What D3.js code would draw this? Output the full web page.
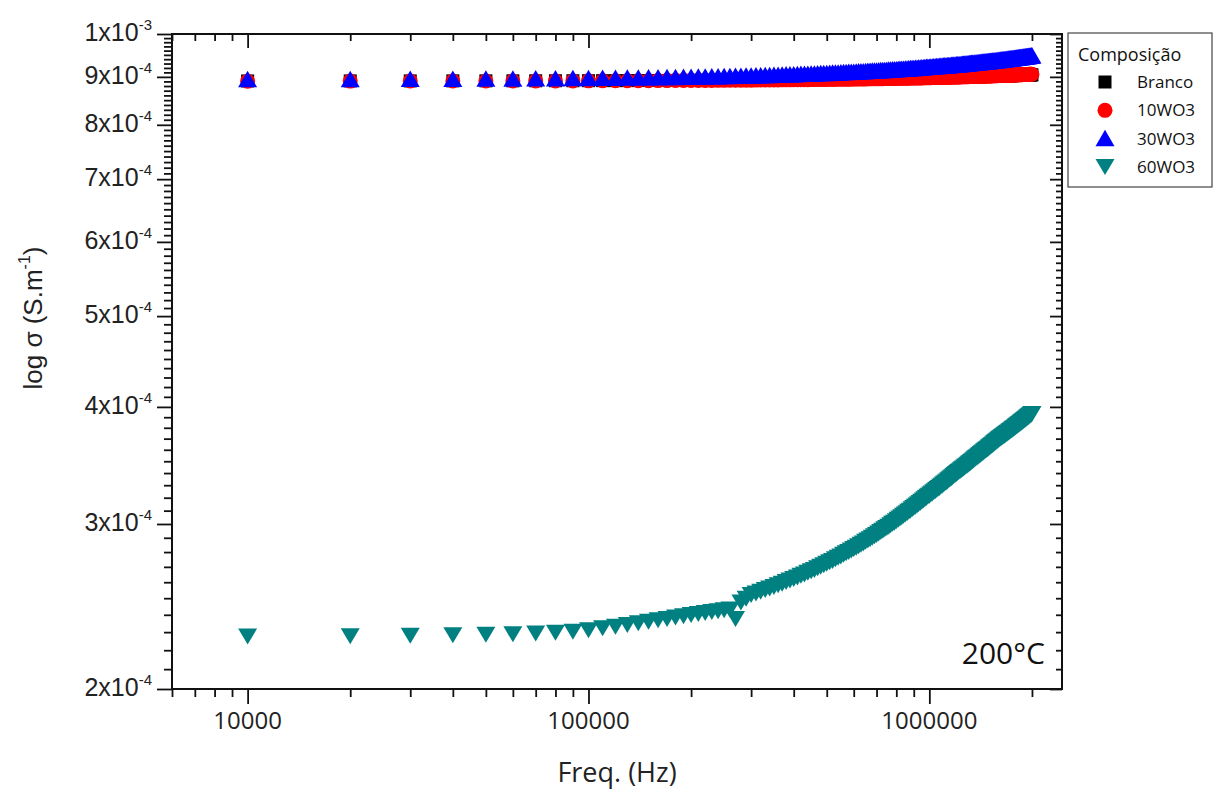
<!DOCTYPE html>
<html>
<head>
<meta charset="utf-8">
<script src="https://cdn.jsdelivr.net/npm/d3@7"></script>
<style>
body { margin: 0; background: #fff; }
</style>
</head>
<body>
<div class="chart"></div>
<script>
// frequency in kHz
var freqKHz = [
    10, 20, 30, 40, 50, 60, 70, 80, 90, 100,
    110, 120, 130, 140, 150, 160, 170, 180, 190, 200,
    210, 220, 230, 240, 250, 260, 270, 280, 290, 300,
    310, 320, 330, 340, 350, 360, 370, 380, 390, 400,
    410, 420, 430, 440, 450, 460, 470, 480, 490, 500,
    510, 520, 530, 540, 550, 560, 570, 580, 590, 600,
    610, 620, 630, 640, 650, 660, 670, 680, 690, 700,
    710, 720, 730, 740, 750, 760, 770, 780, 790, 800,
    810, 820, 830, 840, 850, 860, 870, 880, 890, 900,
    910, 920, 930, 940, 950, 960, 970, 980, 990, 1000,
    1010, 1020, 1030, 1040, 1050, 1060, 1070, 1080, 1090, 1100,
    1110, 1120, 1130, 1140, 1150, 1160, 1170, 1180, 1190, 1200,
    1210, 1220, 1230, 1240, 1250, 1260, 1270, 1280, 1290, 1300,
    1310, 1320, 1330, 1340, 1350, 1360, 1370, 1380, 1390, 1400,
    1410, 1420, 1430, 1440, 1450, 1460, 1470, 1480, 1490, 1500,
    1510, 1520, 1530, 1540, 1550, 1560, 1570, 1580, 1590, 1600,
    1610, 1620, 1630, 1640, 1650, 1660, 1670, 1680, 1690, 1700,
    1710, 1720, 1730, 1740, 1750, 1760, 1770, 1780, 1790, 1800,
    1810, 1820, 1830, 1840, 1850, 1860, 1870, 1880, 1890, 1900,
    1910, 1920, 1930, 1940, 1950, 1960, 1970, 1980, 1990, 2000];

// conductivity in units of 1e-4 S/m
var branco = [
    8.910, 8.911, 8.911, 8.912, 8.913, 8.913, 8.914, 8.915, 8.915, 8.916,
    8.917, 8.917, 8.918, 8.919, 8.920, 8.920, 8.921, 8.922, 8.922, 8.923,
    8.924, 8.924, 8.925, 8.926, 8.926, 8.927, 8.928, 8.928, 8.929, 8.930,
    8.930, 8.931, 8.932, 8.932, 8.933, 8.934, 8.934, 8.935, 8.936, 8.937,
    8.937, 8.938, 8.939, 8.939, 8.940, 8.941, 8.941, 8.942, 8.943, 8.943,
    8.944, 8.945, 8.945, 8.946, 8.947, 8.947, 8.948, 8.949, 8.949, 8.950,
    8.951, 8.951, 8.952, 8.953, 8.954, 8.954, 8.955, 8.956, 8.956, 8.957,
    8.958, 8.958, 8.959, 8.960, 8.960, 8.961, 8.962, 8.962, 8.963, 8.964,
    8.964, 8.965, 8.966, 8.966, 8.967, 8.968, 8.968, 8.969, 8.970, 8.971,
    8.971, 8.972, 8.973, 8.973, 8.974, 8.975, 8.975, 8.976, 8.977, 8.977,
    8.978, 8.979, 8.979, 8.980, 8.981, 8.981, 8.982, 8.983, 8.983, 8.984,
    8.985, 8.985, 8.986, 8.987, 8.988, 8.988, 8.989, 8.990, 8.990, 8.991,
    8.992, 8.992, 8.993, 8.994, 8.994, 8.995, 8.996, 8.996, 8.997, 8.998,
    8.998, 8.999, 9.000, 9.000, 9.001, 9.002, 9.002, 9.003, 9.004, 9.005,
    9.005, 9.006, 9.007, 9.007, 9.008, 9.009, 9.009, 9.010, 9.011, 9.011,
    9.012, 9.013, 9.013, 9.014, 9.015, 9.015, 9.016, 9.017, 9.017, 9.018,
    9.019, 9.019, 9.020, 9.021, 9.022, 9.022, 9.023, 9.024, 9.024, 9.025,
    9.026, 9.026, 9.027, 9.028, 9.028, 9.029, 9.030, 9.030, 9.031, 9.032,
    9.032, 9.033, 9.034, 9.034, 9.035, 9.036, 9.036, 9.037, 9.038, 9.039,
    9.039, 9.040, 9.041, 9.041, 9.042, 9.043, 9.043, 9.044, 9.045, 9.045];

var wo10 = [
    8.906, 8.907, 8.908, 8.908, 8.909, 8.910, 8.911, 8.911, 8.912, 8.913,
    8.914, 8.914, 8.915, 8.916, 8.917, 8.918, 8.918, 8.919, 8.920, 8.921,
    8.921, 8.922, 8.923, 8.924, 8.924, 8.925, 8.926, 8.927, 8.928, 8.928,
    8.929, 8.930, 8.931, 8.931, 8.932, 8.933, 8.934, 8.934, 8.935, 8.936,
    8.937, 8.938, 8.938, 8.939, 8.940, 8.941, 8.941, 8.942, 8.943, 8.944,
    8.945, 8.945, 8.946, 8.947, 8.948, 8.948, 8.949, 8.950, 8.951, 8.951,
    8.952, 8.953, 8.954, 8.955, 8.955, 8.956, 8.957, 8.958, 8.958, 8.959,
    8.960, 8.961, 8.961, 8.962, 8.963, 8.964, 8.965, 8.965, 8.966, 8.967,
    8.968, 8.968, 8.969, 8.970, 8.971, 8.971, 8.972, 8.973, 8.974, 8.975,
    8.975, 8.976, 8.977, 8.978, 8.978, 8.979, 8.980, 8.981, 8.981, 8.982,
    8.983, 8.984, 8.985, 8.985, 8.986, 8.987, 8.988, 8.988, 8.989, 8.990,
    8.991, 8.991, 8.992, 8.993, 8.994, 8.995, 8.995, 8.996, 8.997, 8.998,
    8.998, 8.999, 9.000, 9.001, 9.001, 9.002, 9.003, 9.004, 9.005, 9.005,
    9.006, 9.007, 9.008, 9.008, 9.009, 9.010, 9.011, 9.011, 9.012, 9.013,
    9.014, 9.015, 9.015, 9.016, 9.017, 9.018, 9.018, 9.019, 9.020, 9.021,
    9.021, 9.022, 9.023, 9.024, 9.025, 9.025, 9.026, 9.027, 9.028, 9.028,
    9.029, 9.030, 9.031, 9.031, 9.032, 9.033, 9.034, 9.035, 9.035, 9.036,
    9.037, 9.038, 9.038, 9.039, 9.040, 9.041, 9.041, 9.042, 9.043, 9.044,
    9.045, 9.045, 9.046, 9.047, 9.048, 9.048, 9.049, 9.050, 9.051, 9.051,
    9.052, 9.053, 9.054, 9.054, 9.055, 9.056, 9.057, 9.058, 9.058, 9.059];

var wo30 = [
    8.935, 8.938, 8.941, 8.943, 8.946, 8.949, 8.952, 8.955, 8.957, 8.960,
    8.963, 8.966, 8.969, 8.971, 8.974, 8.977, 8.980, 8.983, 8.985, 8.988,
    8.991, 8.994, 8.997, 8.999, 9.002, 9.005, 9.008, 9.011, 9.013, 9.016,
    9.019, 9.022, 9.025, 9.027, 9.030, 9.033, 9.036, 9.039, 9.041, 9.044,
    9.047, 9.050, 9.053, 9.055, 9.058, 9.061, 9.064, 9.067, 9.069, 9.072,
    9.075, 9.078, 9.081, 9.083, 9.086, 9.089, 9.092, 9.095, 9.097, 9.100,
    9.103, 9.106, 9.109, 9.111, 9.114, 9.117, 9.120, 9.123, 9.125, 9.128,
    9.131, 9.134, 9.137, 9.139, 9.142, 9.145, 9.148, 9.151, 9.153, 9.156,
    9.159, 9.162, 9.165, 9.167, 9.170, 9.173, 9.176, 9.179, 9.181, 9.184,
    9.187, 9.190, 9.193, 9.195, 9.198, 9.201, 9.204, 9.207, 9.209, 9.212,
    9.215, 9.217, 9.220, 9.223, 9.225, 9.228, 9.230, 9.233, 9.236, 9.238,
    9.241, 9.243, 9.246, 9.249, 9.251, 9.254, 9.256, 9.259, 9.262, 9.264,
    9.267, 9.269, 9.272, 9.275, 9.277, 9.280, 9.282, 9.285, 9.288, 9.290,
    9.293, 9.295, 9.298, 9.301, 9.303, 9.306, 9.308, 9.311, 9.314, 9.316,
    9.319, 9.321, 9.324, 9.327, 9.329, 9.332, 9.334, 9.337, 9.340, 9.342,
    9.345, 9.347, 9.350, 9.353, 9.355, 9.358, 9.360, 9.363, 9.366, 9.368,
    9.371, 9.373, 9.376, 9.379, 9.381, 9.384, 9.386, 9.389, 9.392, 9.394,
    9.397, 9.399, 9.402, 9.405, 9.407, 9.410, 9.412, 9.415, 9.418, 9.420,
    9.423, 9.425, 9.428, 9.431, 9.433, 9.436, 9.438, 9.441, 9.444, 9.446,
    9.449, 9.451, 9.454, 9.457, 9.459, 9.462, 9.464, 9.467, 9.470, 9.472];

var wo60 = [
    2.275, 2.277, 2.279, 2.282, 2.285, 2.288, 2.292, 2.297, 2.302, 2.310,
    2.322, 2.331, 2.340, 2.350, 2.360, 2.368, 2.376, 2.384, 2.392, 2.399,
    2.405, 2.410, 2.416, 2.421, 2.427, 2.432, 2.375, 2.474, 2.497, 2.520,
    2.529, 2.540, 2.551, 2.560, 2.570, 2.581, 2.590, 2.601, 2.611, 2.621,
    2.630, 2.641, 2.650, 2.661, 2.671, 2.680, 2.691, 2.701, 2.710, 2.721,
    2.731, 2.740, 2.751, 2.761, 2.770, 2.781, 2.791, 2.800, 2.811, 2.821,
    2.830, 2.841, 2.851, 2.860, 2.871, 2.881, 2.890, 2.901, 2.911, 2.920,
    2.931, 2.941, 2.950, 2.961, 2.971, 2.980, 2.991, 3.001, 3.010, 3.021,
    3.031, 3.040, 3.051, 3.061, 3.070, 3.081, 3.091, 3.100, 3.111, 3.121,
    3.130, 3.140, 3.150, 3.159, 3.169, 3.178, 3.188, 3.197, 3.207, 3.216,
    3.225, 3.234, 3.243, 3.252, 3.261, 3.270, 3.278, 3.287, 3.296, 3.305,
    3.314, 3.322, 3.331, 3.340, 3.349, 3.357, 3.366, 3.375, 3.384, 3.392,
    3.400, 3.408, 3.416, 3.424, 3.431, 3.439, 3.447, 3.455, 3.462, 3.470,
    3.478, 3.486, 3.494, 3.501, 3.509, 3.517, 3.525, 3.532, 3.540, 3.548,
    3.555, 3.562, 3.569, 3.577, 3.584, 3.591, 3.598, 3.605, 3.612, 3.620,
    3.627, 3.634, 3.641, 3.648, 3.655, 3.662, 3.670, 3.677, 3.684, 3.691,
    3.697, 3.703, 3.709, 3.715, 3.721, 3.727, 3.733, 3.739, 3.745, 3.751,
    3.757, 3.763, 3.769, 3.775, 3.781, 3.787, 3.793, 3.799, 3.805, 3.811,
    3.817, 3.823, 3.829, 3.835, 3.841, 3.847, 3.853, 3.859, 3.864, 3.870,
    3.876, 3.882, 3.888, 3.894, 3.900, 3.906, 3.912, 3.918, 3.924, 3.930];

var seriesNames = ["Branco", "10WO3", "30WO3", "60WO3"];
var seriesColors = ["#000000", "#ff0000", "#0000ff", "#008080"];
var seriesShapes = ["square", "circle", "up", "down"];
var seriesValues = [branco, wo10, wo30, wo60];

var yMajor = [2e-4, 3e-4, 4e-4, 5e-4, 6e-4, 7e-4, 8e-4, 9e-4, 1e-3];
var yMantissa = ["2", "3", "4", "5", "6", "7", "8", "9", "1"];
var yExponent = ["-4", "-4", "-4", "-4", "-4", "-4", "-4", "-4", "-3"];
var xMajor = [10000, 100000, 1000000];
var xLabels = ["10000", "100000", "1000000"];

var W = 1216, H = 791;
var plot = {left: 172, right: 1062, top: 34, bottom: 689};

var x = d3.scaleLog().domain([6000, 2450000]).range([plot.left, plot.right]);
var y = d3.scaleLog().domain([2e-4, 1e-3]).range([plot.bottom, plot.top]);

// minor ticks: 2..9 within each decade (x), every 1e-5 (y)
var xMinor = [];
[1000, 10000, 100000, 1000000].forEach(function (dec) {
    for (var m = 2; m <= 9; m++) {
        var v = m * dec;
        if (v >= 6000 && v <= 2450000 && xMajor.indexOf(v) < 0) xMinor.push(v);
    }
});
var yMinor = [];
for (var k = 21; k < 100; k++) {
    if (k % 10 !== 0) yMinor.push(k * 1e-5);
}

var svg = d3.select(".chart").append("svg")
    .attr("width", W)
    .attr("height", H)
    .style("font-family", "'Liberation Sans', Arial, sans-serif");

svg.append("rect").attr("width", W).attr("height", H).attr("fill", "#fff");

function axis(gen, tx, ty, values, size) {
    var g = svg.append("g")
        .attr("transform", "translate(" + tx + "," + ty + ")")
        .call(gen.tickValues(values).tickSize(size).tickSizeOuter(0).tickFormat(""));
    g.select(".domain").remove();
    g.selectAll("line").attr("stroke", "#111").attr("stroke-width", 1.8);
    return g;
}

// bottom / left: ticks outside, top / right: ticks inside
axis(d3.axisBottom(x), 0, plot.bottom, xMinor, 8);
axis(d3.axisBottom(x), 0, plot.bottom, xMajor, 15);
axis(d3.axisTop(x), 0, plot.top, xMinor, -7);
axis(d3.axisTop(x), 0, plot.top, xMajor, -14);
axis(d3.axisLeft(y), plot.left, 0, yMinor, 8);
axis(d3.axisLeft(y), plot.left, 0, yMajor, 15);
axis(d3.axisRight(y), plot.right, 0, yMinor, -6);
axis(d3.axisRight(y), plot.right, 0, yMajor, -12);

svg.append("rect")
    .attr("x", plot.left)
    .attr("y", plot.top)
    .attr("width", plot.right - plot.left)
    .attr("height", plot.bottom - plot.top)
    .attr("fill", "none")
    .attr("stroke", "#111")
    .attr("stroke-width", 2);

// y tick labels with superscript exponent
var yl = svg.append("g").selectAll("text")
    .data(yMajor)
    .enter()
    .append("text")
    .attr("x", 152)
    .attr("y", function (d) { return y(d) + 7; })
    .attr("text-anchor", "end")
    .attr("fill", "#222")
    .style("font-size", "25px");
yl.append("tspan").text(function (d, i) { return yMantissa[i] + "x10"; });
yl.append("tspan")
    .attr("dy", -11)
    .style("font-size", "15px")
    .text(function (d, i) { return yExponent[i]; });

// x tick labels
svg.append("g").selectAll("text")
    .data(xMajor)
    .enter()
    .append("text")
    .attr("x", function (d) { return x(d); })
    .attr("y", 729)
    .attr("text-anchor", "middle")
    .attr("fill", "#222")
    .style("font-family", "'Open Sans', sans-serif")
    .style("font-size", "24px")
    .text(function (d, i) { return xLabels[i]; });

svg.append("text")
    .attr("x", 617)
    .attr("y", 782)
    .attr("text-anchor", "middle")
    .attr("fill", "#222")
    .style("font-family", "'Open Sans', sans-serif")
    .style("font-size", "27px")
    .text("Freq. (Hz)");

var ytitle = svg.append("text")
    .attr("transform", "translate(42,318) rotate(-90)")
    .attr("text-anchor", "middle")
    .attr("fill", "#222")
    .style("font-size", "26px");
ytitle.append("tspan").text("log σ (S.m");
ytitle.append("tspan").attr("dy", -12).style("font-size", "16px").text("-1");
ytitle.append("tspan").attr("dy", 12).text(")");

function markerPath(shape) {
    if (shape === "square") return "M-6.5,-6.5H6.5V6.5H-6.5Z";
    if (shape === "up") return "M0,-9L9.5,7.5L-9.5,7.5Z";
    if (shape === "down") return "M0,8L9.5,-8L-9.5,-8Z";
    return d3.symbol(d3.symbolCircle, Math.PI * 7.5 * 7.5)();
}

// data markers
seriesValues.forEach(function (vals, s) {
    var pts = freqKHz.map(function (f, i) { return {f: f * 1000, v: vals[i] * 1e-4}; });
    svg.append("g").selectAll("path")
        .data(pts)
        .enter()
        .append("path")
        .attr("d", markerPath(seriesShapes[s]))
        .attr("transform", function (d) { return "translate(" + x(d.f) + "," + y(d.v) + ")"; })
        .attr("fill", seriesColors[s]);
});

svg.append("text")
    .attr("x", 1045)
    .attr("y", 664)
    .attr("text-anchor", "end")
    .attr("fill", "#111")
    .style("font-family", "'Open Sans', sans-serif")
    .style("font-size", "30px")
    .text("200°C");

// legend
var lg = svg.append("g");
lg.append("rect")
    .attr("x", 1068).attr("y", 33)
    .attr("width", 144).attr("height", 154)
    .attr("fill", "#fff")
    .attr("stroke", "#444")
    .attr("stroke-width", 1.2);
lg.append("text")
    .attr("x", 1078).attr("y", 61)
    .attr("fill", "#111")
    .style("font-family", "'Open Sans', sans-serif")
    .style("font-size", "18px")
    .text("Composição");
var rowY = d3.scalePoint().domain(seriesNames).range([82, 167]);
var item = lg.selectAll("g.item")
    .data(seriesNames)
    .enter()
    .append("g")
    .attr("class", "item")
    .attr("transform", function (d) { return "translate(0," + rowY(d) + ")"; });
item.append("path")
    .attr("transform", "translate(1105,0)")
    .attr("d", function (d, i) { return markerPath(seriesShapes[i]); })
    .attr("fill", function (d, i) { return seriesColors[i]; });
item.append("text")
    .attr("x", 1137)
    .attr("y", 6)
    .attr("fill", "#111")
    .style("font-family", "'Open Sans', sans-serif")
    .style("font-size", "17px")
    .text(function (d) { return d; });
</script>
</body>
</html>
